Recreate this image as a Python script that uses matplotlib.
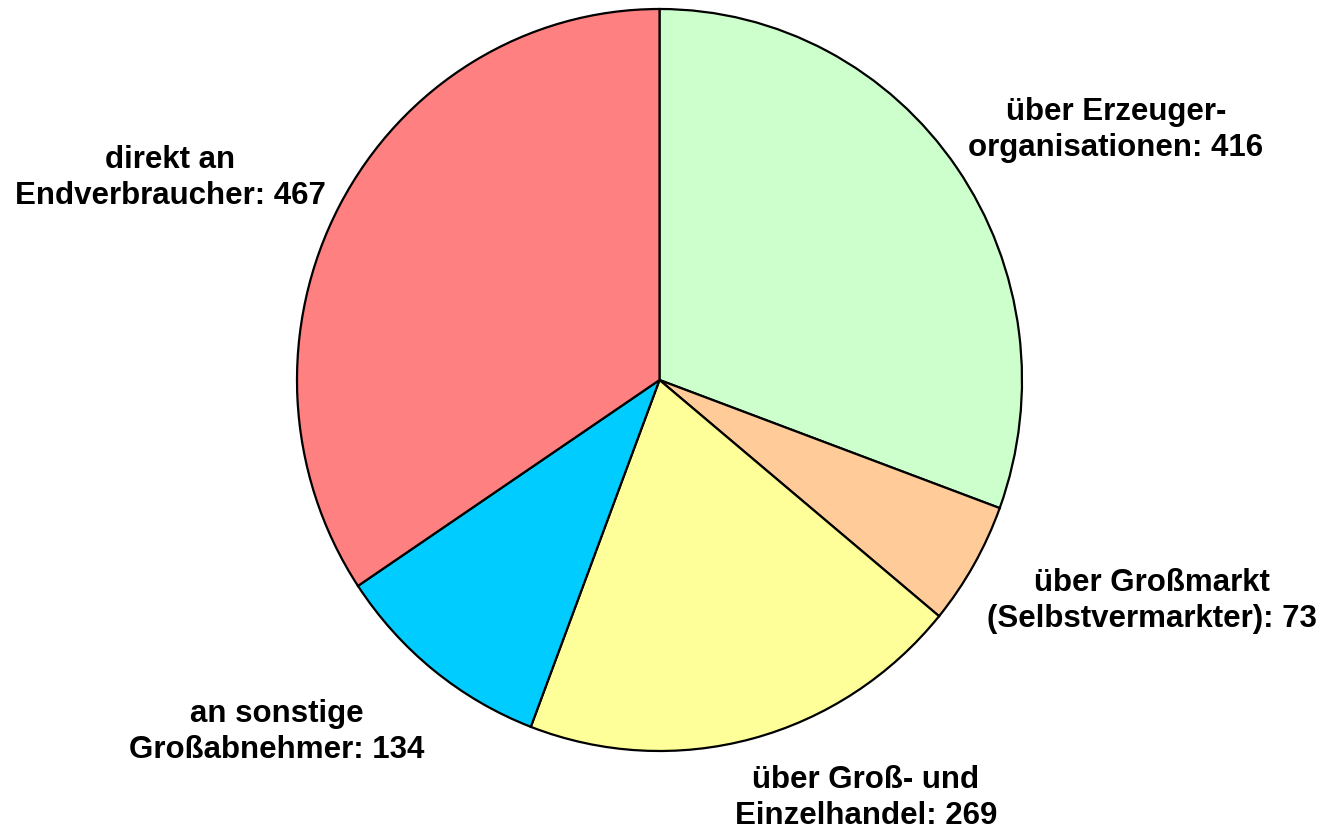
import matplotlib.pyplot as plt

# Absatzwege (Anzahl Betriebe)
labels = [
    "über Erzeuger-\norganisationen: 416",
    "über Großmarkt\n(Selbstvermarkter): 73",
    "über Groß- und\nEinzelhandel: 269",
    "an sonstige\nGroßabnehmer: 134",
    "direkt an\nEndverbraucher: 467",
]
values = [416, 73, 269, 134, 467]
colors = ["#CCFFCC", "#FFCC99", "#FFFF99", "#00CCFF", "#FF8080"]

# label centres in figure pixels
label_pos = [(1116, 130), (1152, 601), (866, 798), (277, 732), (170, 178)]

W, H = 1325, 833
fig = plt.figure(figsize=(W / 100, H / 100), dpi=100)
ax = fig.add_axes([297 / W, 1 - 751 / H, 725 / W, 742 / H])

ax.pie(values, colors=colors, startangle=90, counterclock=False,
       wedgeprops=dict(edgecolor="black", linewidth=1.6))
ax.set_aspect("auto")
ax.set_xlim(-1, 1)
ax.set_ylim(-1, 1)
ax.axis("off")

for text, (x, y) in zip(labels, label_pos):
    fig.text(x / W, 1 - y / H, text, ha="center", va="center",
             fontsize=22.5, fontweight="bold", family="Liberation Sans",
             linespacing=1.28)

fig.savefig("out.png", dpi=100)
